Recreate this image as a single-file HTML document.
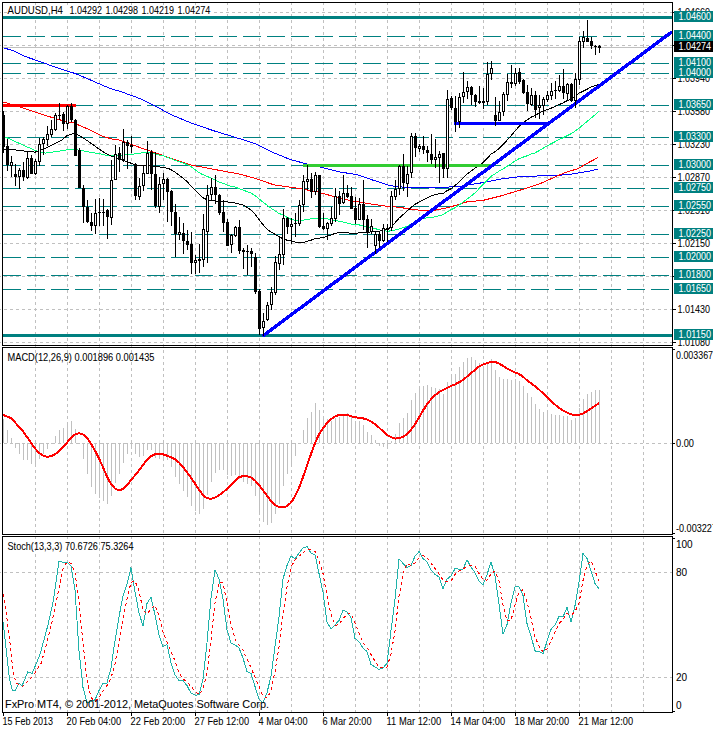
<!DOCTYPE html>
<html><head><meta charset="utf-8"><style>
html,body{margin:0;padding:0;background:#fff;}
body{width:713px;height:729px;position:relative;overflow:hidden;font-family:"Liberation Sans", sans-serif;}
</style></head><body>
<svg width="713" height="729" viewBox="0 0 713 729" style="position:absolute;left:0;top:0"><rect width="713" height="729" fill="#fff"/><path d="M35.5 2V712M67.5 2V712M99.5 2V712M131.5 2V712M163.5 2V712M195.5 2V712M227.5 2V712M259.5 2V712M291.5 2V712M323.5 2V712M355.5 2V712M387.5 2V712M419.5 2V712M451.5 2V712M483.5 2V712M515.5 2V712M547.5 2V712M579.5 2V712M611.5 2V712M643.5 2V712M-2 12.5H672M-2 45.5H672M-2 78.5H672M-2 111.5H672M-2 144.5H672M-2 177.5H672M-2 210.5H672M-2 243.5H672M-2 276.5H672M-2 309.5H672M-2 342.5H672M-2 443.5H672M-2 572.5H672M-2 677.5H672" stroke="#c0c0c0" stroke-width="1" fill="none" stroke-dasharray="3 3" shape-rendering="crispEdges"/><rect x="3" y="16" width="669" height="3" fill="#008080"/><rect x="3" y="334" width="669" height="3" fill="#008080"/><path d="M3 36.5H672M3 63.5H672M3 73.5H672M3 105.5H672M3 137.5H672M3 165.5H672M3 188.5H672M3 206.5H672M3 234.5H672M3 257.5H672M3 275.5H672M3 289.5H672" stroke="#008080" stroke-width="1" fill="none" stroke-dasharray="18 6" shape-rendering="crispEdges"/><polyline points="3.0,47.6 13.5,50.9 23.6,56.0 33.7,59.4 45.5,63.6 57.2,67.8 67.3,71.1 75.8,73.7 87.5,78.7 101.0,84.6 111.1,88.8 120.0,91.3 141.9,99.3 153.7,105.2 170.5,114.4 190.7,122.8 212.6,130.4 240.0,138.8 256.8,144.4 273.7,152.8 290.5,159.6 307.3,164.1 324.2,168.0 341.0,172.2 356.8,174.5 373.7,180.4 390.5,185.8 407.3,187.5 424.2,188.0 441.0,187.5 460.0,186.3 483.7,182.5 500.5,179.1 520.7,176.6 542.6,175.8 556.5,175.6 572.9,173.9 589.4,171.1 598.4,169.0" fill="none" stroke="#0000ff" stroke-width="1" shape-rendering="crispEdges"/><polyline points="3.4,102.1 16.8,105.9 26.9,109.3 42.0,114.4 55.6,118.6 67.3,121.9 74.0,122.3 79.0,125.3 89.2,129.5 102.7,136.2 111.0,138.8 120.0,140.2 136.8,146.4 153.7,152.3 170.5,158.2 190.7,164.9 212.6,169.1 240.0,174.2 256.8,178.9 273.7,184.8 297.2,188.2 315.8,191.5 334.3,196.6 351.1,200.8 365.3,203.1 382.1,205.7 398.9,207.3 415.8,209.9 432.6,210.7 449.4,207.3 466.8,201.9 483.7,200.2 500.5,196.0 524.1,188.9 540.9,183.3 557.7,175.8 564.7,172.8 577.9,168.6 589.4,162.1 598.4,157.4" fill="none" stroke="#ff0000" stroke-width="1" shape-rendering="crispEdges"/><polyline points="4.9,136.8 15.7,141.7 25.5,146.2 35.3,150.5 45.2,153.1 56.9,151.5 68.7,149.5 75.6,149.5 86.4,151.5 98.2,153.5 110.0,156.0 121.7,155.4 133.5,154.1 146.8,152.1 163.7,156.0 177.1,161.0 188.9,165.2 200.7,173.7 212.5,178.7 219.0,182.0 223.0,183.4 227.0,184.9 231.0,186.2 235.0,187.1 239.0,188.6 243.0,189.9 247.0,191.6 251.0,193.1 255.0,195.5 259.0,198.8 263.0,202.1 267.0,205.2 271.0,208.2 275.0,210.9 279.0,213.4 283.0,215.1 287.0,217.3 291.0,219.2 295.0,220.4 299.0,220.8 303.0,220.3 307.0,219.5 311.0,218.9 315.0,218.2 319.0,218.5 323.0,218.8 327.0,218.9 331.0,219.6 335.0,220.4 339.0,221.2 343.0,222.1 347.0,223.0 351.0,224.1 355.0,224.6 359.0,224.9 363.0,225.8 367.0,227.2 371.0,228.1 375.0,228.6 379.0,229.7 383.0,230.6 387.0,231.2 391.0,230.9 395.0,230.1 399.0,228.9 403.0,227.8 407.0,226.5 411.0,224.2 415.0,222.2 419.0,220.1 423.0,218.7 427.0,217.9 431.0,217.4 435.0,216.8 439.0,215.7 443.0,214.7 447.0,212.0 451.0,209.7 455.0,207.8 459.0,205.0 463.0,202.1 467.0,199.1 471.0,196.2 475.0,192.8 479.0,188.7 483.0,184.7 487.0,180.5 491.0,176.4 495.0,173.8 499.0,171.2 503.0,169.0 507.0,166.4 511.0,163.8 515.0,161.0 519.0,158.8 523.0,157.2 527.0,155.8 531.0,154.1 535.0,152.9 539.0,150.7 543.0,148.3 547.0,146.0 551.0,143.7 555.0,141.7 559.0,139.6 563.0,137.8 567.0,135.7 571.0,133.8 575.0,131.2 579.0,128.2 583.0,124.9 587.0,121.5 591.0,118.2 595.0,114.8 599.0,111.3" fill="none" stroke="#00ff7f" stroke-width="1" shape-rendering="crispEdges"/><polyline points="3.9,149.0 11.8,149.5 19.6,150.5 27.5,151.5 35.3,152.1 45.2,148.6 55.0,143.7 60.9,140.7 66.8,135.8 72.6,133.8 76.6,134.2 84.4,138.7 94.2,145.6 104.1,152.5 111.9,156.4 125.7,161.3 135.0,164.6 139.0,165.8 143.0,166.0 147.0,165.7 151.0,165.6 155.0,166.7 159.0,166.9 163.0,167.5 167.0,168.1 171.0,169.6 175.0,172.2 179.0,175.0 183.0,178.1 187.0,181.5 191.0,185.9 195.0,190.1 199.0,194.1 203.0,197.7 207.0,199.9 211.0,200.8 215.0,201.0 219.0,201.2 223.0,201.2 227.0,201.8 231.0,202.5 235.0,202.9 239.0,204.0 243.0,205.1 247.0,207.2 251.0,210.1 255.0,214.0 259.0,219.5 263.0,224.6 267.0,229.3 271.0,232.1 275.0,234.3 279.0,236.7 283.0,238.7 287.0,240.2 291.0,240.8 295.0,242.0 299.0,242.7 303.0,242.4 307.0,241.4 311.0,240.2 315.0,238.5 319.0,238.1 323.0,237.6 327.0,236.4 331.0,235.2 335.0,233.3 339.0,232.6 343.0,232.5 347.0,232.8 351.0,233.3 355.0,233.5 359.0,232.9 363.0,232.1 367.0,232.1 371.0,232.0 375.0,231.5 379.0,231.2 383.0,230.5 387.0,229.7 391.0,226.9 395.0,222.8 399.0,218.2 403.0,214.7 407.0,211.2 411.0,207.5 415.0,204.3 419.0,202.2 423.0,200.0 427.0,197.9 431.0,196.0 435.0,194.5 439.0,193.8 443.0,193.5 447.0,190.7 451.0,188.8 455.0,185.7 459.0,181.8 463.0,177.9 467.0,174.0 471.0,171.1 475.0,168.1 479.0,165.4 483.0,162.6 487.0,158.7 491.0,154.2 495.0,151.7 499.0,148.6 503.0,144.5 507.0,140.3 511.0,135.9 515.0,130.9 519.0,126.6 523.0,122.7 527.0,120.0 531.0,117.2 535.0,115.5 539.0,113.2 543.0,111.0 547.0,109.8 551.0,108.2 555.0,106.5 559.0,104.7 563.0,102.9 567.0,100.7 571.0,99.0 575.0,96.8 579.0,93.1 583.0,91.3 587.0,89.3 591.0,87.1 595.0,85.6 599.0,84.3" fill="none" stroke="#000000" stroke-width="1" shape-rendering="crispEdges"/><rect x="3" y="47" width="669" height="1" fill="#c0c0c0"/><rect x="3" y="104" width="73" height="3" fill="#ff0000"/><rect x="303" y="164" width="190" height="3" fill="#32cd32"/><rect x="454" y="122" width="95" height="3" fill="#0000ff"/><line x1="262.7" y1="336" x2="672" y2="31.8" stroke="#0000ff" stroke-width="3.4" shape-rendering="crispEdges"/><path d="M3 111h1V153h-1ZM2 115h3V147h-3ZM7 139h1V171h-1ZM6 146h3V165h-3ZM11 156h1V177h-1ZM10 162h3V166h-3ZM15 164h1V186h-1ZM14 174h3V177h-3ZM19 168h1V189h-1ZM18 170h3V177h-3ZM23 162h1V181h-1ZM22 170h3V177h-3ZM27 151h1V179h-1ZM26 158h3V178h-3ZM31 155h1V174h-1ZM30 158h3V174h-3ZM35 159h1V175h-1ZM34 161h3V174h-3ZM39 138h1V166h-1ZM38 144h3V162h-3ZM43 137h1V155h-1ZM42 139h3V144h-3ZM47 126h1V146h-1ZM46 134h3V140h-3ZM51 120h1V137h-1ZM50 129h3V135h-3ZM55 113h1V131h-1ZM54 115h3V130h-3ZM59 103h1V120h-1ZM58 115h3V116h-3ZM63 112h1V131h-1ZM62 114h3V124h-3ZM67 105h1V129h-1ZM66 106h3V124h-3ZM71 103h1V122h-1ZM70 106h3V120h-3ZM75 119h1V156h-1ZM74 120h3V156h-3ZM79 148h1V188h-1ZM78 150h3V188h-3ZM83 185h1V223h-1ZM82 188h3V207h-3ZM87 200h1V223h-1ZM86 207h3V222h-3ZM91 213h1V231h-1ZM90 222h3V226h-3ZM95 199h1V234h-1ZM94 213h3V226h-3ZM99 198h1V226h-1ZM98 212h3V213h-3ZM103 199h1V226h-1ZM102 212h3V213h-3ZM107 209h1V239h-1ZM106 210h3V217h-3ZM111 160h1V225h-1ZM110 180h3V218h-3ZM115 145h1V180h-1ZM114 154h3V180h-3ZM119 147h1V172h-1ZM118 153h3V160h-3ZM123 129h1V162h-1ZM122 142h3V160h-3ZM127 140h1V169h-1ZM126 142h3V146h-3ZM131 136h1V153h-1ZM130 145h3V147h-3ZM135 163h1V200h-1ZM134 164h3V196h-3ZM139 178h1V200h-1ZM138 186h3V197h-3ZM143 166h1V191h-1ZM142 173h3V186h-3ZM147 141h1V174h-1ZM146 153h3V174h-3ZM151 150h1V190h-1ZM150 152h3V174h-3ZM155 152h1V208h-1ZM154 174h3V206h-3ZM159 177h1V213h-1ZM158 184h3V207h-3ZM163 173h1V200h-1ZM162 179h3V184h-3ZM167 178h1V222h-1ZM166 179h3V192h-3ZM171 190h1V226h-1ZM170 191h3V212h-3ZM175 204h1V257h-1ZM174 212h3V234h-3ZM179 217h1V240h-1ZM178 232h3V235h-3ZM183 223h1V254h-1ZM182 233h3V241h-3ZM187 230h1V250h-1ZM186 241h3V245h-3ZM191 232h1V274h-1ZM190 244h3V263h-3ZM195 255h1V274h-1ZM194 260h3V263h-3ZM199 244h1V273h-1ZM198 259h3V261h-3ZM203 214h1V267h-1ZM202 229h3V260h-3ZM207 185h1V263h-1ZM206 195h3V232h-3ZM211 178h1V200h-1ZM210 187h3V195h-3ZM215 175h1V204h-1ZM214 187h3V195h-3ZM219 194h1V215h-1ZM218 195h3V213h-3ZM223 200h1V232h-1ZM222 212h3V223h-3ZM227 219h1V246h-1ZM226 222h3V246h-3ZM231 234h1V253h-1ZM230 235h3V245h-3ZM235 226h1V237h-1ZM234 227h3V236h-3ZM239 220h1V254h-1ZM238 227h3V251h-3ZM243 248h1V269h-1ZM242 250h3V252h-3ZM247 245h1V275h-1ZM246 251h3V252h-3ZM251 248h1V267h-1ZM250 251h3V254h-3ZM255 253h1V294h-1ZM254 257h3V292h-3ZM259 289h1V335h-1ZM258 291h3V329h-3ZM263 313h1V336h-1ZM262 321h3V328h-3ZM267 302h1V321h-1ZM266 305h3V320h-3ZM271 287h1V310h-1ZM270 292h3V305h-3ZM275 256h1V295h-1ZM274 262h3V293h-3ZM279 236h1V270h-1ZM278 254h3V264h-3ZM283 209h1V265h-1ZM282 218h3V255h-3ZM287 217h1V234h-1ZM286 218h3V227h-3ZM291 218h1V244h-1ZM290 224h3V227h-3ZM295 213h1V237h-1ZM294 223h3V224h-3ZM299 200h1V226h-1ZM298 205h3V224h-3ZM303 175h1V212h-1ZM302 181h3V205h-3ZM307 165h1V190h-1ZM306 179h3V182h-3ZM311 173h1V198h-1ZM310 179h3V192h-3ZM315 172h1V195h-1ZM314 175h3V192h-3ZM319 175h1V228h-1ZM318 175h3V227h-3ZM323 213h1V230h-1ZM322 226h3V229h-3ZM327 222h1V240h-1ZM326 223h3V229h-3ZM331 207h1V226h-1ZM330 218h3V224h-3ZM335 188h1V222h-1ZM334 196h3V219h-3ZM339 191h1V215h-1ZM338 196h3V204h-3ZM343 175h1V204h-1ZM342 193h3V203h-3ZM347 185h1V198h-1ZM346 193h3V197h-3ZM351 187h1V209h-1ZM350 196h3V209h-3ZM355 197h1V224h-1ZM354 208h3V220h-3ZM359 198h1V220h-1ZM358 204h3V220h-3ZM363 180h1V230h-1ZM362 204h3V220h-3ZM367 215h1V248h-1ZM366 219h3V232h-3ZM371 219h1V234h-1ZM370 226h3V232h-3ZM375 232h1V254h-1ZM374 234h3V246h-3ZM379 231h1V248h-1ZM378 234h3V241h-3ZM383 224h1V242h-1ZM382 228h3V241h-3ZM387 224h1V242h-1ZM386 228h3V230h-3ZM391 191h1V231h-1ZM390 196h3V228h-3ZM395 180h1V200h-1ZM394 189h3V197h-3ZM399 165h1V195h-1ZM398 166h3V189h-3ZM403 154h1V191h-1ZM402 166h3V183h-3ZM407 166h1V197h-1ZM406 174h3V184h-3ZM411 133h1V178h-1ZM410 136h3V173h-3ZM415 133h1V157h-1ZM414 136h3V148h-3ZM419 144h1V152h-1ZM418 146h3V149h-3ZM423 136h1V154h-1ZM422 146h3V150h-3ZM427 146h1V162h-1ZM426 150h3V153h-3ZM431 134h1V164h-1ZM430 154h3V160h-3ZM435 139h1V168h-1ZM434 157h3V160h-3ZM439 151h1V183h-1ZM438 154h3V158h-3ZM443 153h1V178h-1ZM442 153h3V169h-3ZM447 90h1V178h-1ZM446 99h3V169h-3ZM451 96h1V110h-1ZM450 98h3V108h-3ZM455 96h1V132h-1ZM454 108h3V122h-3ZM459 93h1V128h-1ZM458 97h3V122h-3ZM463 72h1V103h-1ZM462 92h3V97h-3ZM467 81h1V99h-1ZM466 87h3V92h-3ZM471 86h1V105h-1ZM470 87h3V95h-3ZM475 94h1V107h-1ZM474 95h3V102h-3ZM479 86h1V104h-1ZM478 101h3V103h-3ZM483 88h1V109h-1ZM482 101h3V103h-3ZM487 62h1V105h-1ZM486 74h3V102h-3ZM491 61h1V80h-1ZM490 68h3V74h-3ZM495 97h1V126h-1ZM494 115h3V121h-3ZM499 101h1V121h-1ZM498 112h3V121h-3ZM503 92h1V116h-1ZM502 94h3V112h-3ZM507 74h1V101h-1ZM506 82h3V95h-3ZM511 65h1V88h-1ZM510 82h3V84h-3ZM515 68h1V86h-1ZM514 73h3V84h-3ZM519 68h1V84h-1ZM518 72h3V82h-3ZM523 79h1V94h-1ZM522 80h3V93h-3ZM527 85h1V111h-1ZM526 92h3V104h-3ZM531 88h1V106h-1ZM530 95h3V105h-3ZM535 91h1V118h-1ZM534 95h3V110h-3ZM539 95h1V119h-1ZM538 105h3V108h-3ZM543 97h1V115h-1ZM542 99h3V106h-3ZM547 91h1V102h-1ZM546 95h3V100h-3ZM551 83h1V100h-1ZM550 91h3V96h-3ZM555 81h1V99h-1ZM554 90h3V91h-3ZM559 75h1V92h-1ZM558 86h3V91h-3ZM563 69h1V99h-1ZM562 86h3V93h-3ZM567 83h1V101h-1ZM566 84h3V94h-3ZM571 83h1V102h-1ZM570 84h3V101h-3ZM575 73h1V108h-1ZM574 79h3V101h-3ZM579 37h1V85h-1ZM578 41h3V80h-3ZM583 31h1V48h-1ZM582 37h3V42h-3ZM587 20h1V42h-1ZM586 38h3V42h-3ZM591 37h1V49h-1ZM590 41h3V46h-3ZM595 45h1V55h-1ZM594 46h3V47h-3ZM599 45h1V53h-1ZM598 46h3V48h-3Z" fill="#000" shape-rendering="crispEdges"/><path d="M11 163h1V165h-1ZM19 171h1V176h-1ZM27 159h1V177h-1ZM35 162h1V173h-1ZM39 145h1V161h-1ZM43 140h1V143h-1ZM47 135h1V139h-1ZM51 130h1V134h-1ZM55 116h1V129h-1ZM67 107h1V123h-1ZM95 214h1V225h-1ZM111 181h1V217h-1ZM115 155h1V179h-1ZM123 143h1V159h-1ZM139 187h1V196h-1ZM143 174h1V185h-1ZM147 154h1V173h-1ZM159 185h1V206h-1ZM163 180h1V183h-1ZM179 233h1V234h-1ZM195 261h1V262h-1ZM203 230h1V259h-1ZM207 196h1V231h-1ZM211 188h1V194h-1ZM231 236h1V244h-1ZM235 228h1V235h-1ZM263 322h1V327h-1ZM267 306h1V319h-1ZM271 293h1V304h-1ZM275 263h1V292h-1ZM279 255h1V263h-1ZM283 219h1V254h-1ZM291 225h1V226h-1ZM299 206h1V223h-1ZM303 182h1V204h-1ZM307 180h1V181h-1ZM315 176h1V191h-1ZM327 224h1V228h-1ZM331 219h1V223h-1ZM335 197h1V218h-1ZM343 194h1V202h-1ZM359 205h1V219h-1ZM371 227h1V231h-1ZM375 235h1V245h-1ZM383 229h1V240h-1ZM391 197h1V227h-1ZM395 190h1V196h-1ZM399 167h1V188h-1ZM407 175h1V183h-1ZM411 137h1V172h-1ZM419 147h1V148h-1ZM435 158h1V159h-1ZM439 155h1V157h-1ZM447 100h1V168h-1ZM459 98h1V121h-1ZM463 93h1V96h-1ZM467 88h1V91h-1ZM487 75h1V101h-1ZM491 69h1V73h-1ZM499 113h1V120h-1ZM503 95h1V111h-1ZM507 83h1V94h-1ZM515 74h1V83h-1ZM531 96h1V104h-1ZM539 106h1V107h-1ZM543 100h1V105h-1ZM547 96h1V99h-1ZM551 92h1V95h-1ZM559 87h1V90h-1ZM567 85h1V93h-1ZM575 80h1V100h-1ZM579 42h1V79h-1ZM583 38h1V41h-1Z" fill="#fff" shape-rendering="crispEdges"/><path d="M3.5 419V443M7.5 430V443M11.5 438V443M15.5 443V448M19.5 443V454M23.5 443V460M27.5 443V460M31.5 443V464M35.5 443V464M39.5 443V459M43.5 443V454M47.5 443V449M51.5 443V444M55.5 436V443M59.5 430V443M63.5 428V443M67.5 422V443M71.5 421V443M75.5 429V443M79.5 443V444M83.5 443V459M87.5 443V474M91.5 443V487M95.5 443V494M99.5 443V498M103.5 443V501M107.5 443V504M111.5 443V496M115.5 443V483M119.5 443V474M123.5 443V463M127.5 443V454M131.5 443V448M135.5 443V454M139.5 443V457M143.5 443V456M147.5 443V450M151.5 443V450M155.5 443V458M159.5 443V459M163.5 443V458M167.5 443V460M171.5 443V467M175.5 443V477M179.5 443V484M183.5 443V491M187.5 443V497M191.5 443V506M195.5 443V511M199.5 443V514M203.5 443V509M207.5 443V495M211.5 443V482M215.5 443V473M219.5 443V470M223.5 443V470M227.5 443V475M231.5 443V476M235.5 443V475M239.5 443V479M243.5 443V482M247.5 443V484M251.5 443V486M255.5 443V496M259.5 443V512M263.5 443V522M267.5 443V525M271.5 443V523M275.5 443V514M279.5 443V504M283.5 443V486M287.5 443V474M291.5 443V464M295.5 443V456M299.5 443V444M303.5 430V443M307.5 418V443M311.5 412V443M315.5 403V443M319.5 410V443M323.5 416V443M327.5 419V443M331.5 421V443M335.5 418V443M339.5 417V443M343.5 414V443M347.5 413V443M351.5 416V443M355.5 421V443M359.5 421V443M363.5 425V443M367.5 432V443M371.5 435V443M375.5 440V443M379.5 443V446M383.5 443V447M387.5 443V448M391.5 441V443M395.5 434V443M399.5 423V443M403.5 418V443M407.5 413V443M411.5 400V443M415.5 393V443M419.5 388V443M423.5 386V443M427.5 385V443M431.5 387V443M435.5 388V443M439.5 389V443M443.5 394V443M447.5 382V443M451.5 375V443M455.5 374V443M459.5 367V443M463.5 362V443M467.5 358V443M471.5 357V443M475.5 360V443M479.5 363V443M483.5 366V443M487.5 362V443M491.5 359V443M495.5 370V443M499.5 377V443M503.5 379V443M507.5 379V443M511.5 380V443M515.5 379V443M519.5 381V443M523.5 386V443M527.5 393V443M531.5 397V443M535.5 404V443M539.5 409V443M543.5 412V443M547.5 413V443M551.5 414V443M555.5 415V443M559.5 415V443M563.5 416V443M567.5 416V443M571.5 420V443M575.5 418V443M579.5 408V443M583.5 399V443M587.5 394V443M591.5 392V443M595.5 390V443M599.5 390V443" stroke="#c0c0c0" stroke-width="1" fill="none" shape-rendering="crispEdges"/><polyline points="2.7,414.8 11.2,418.2 22.4,430.5 35.0,448.4 39.0,452.9 43.0,455.6 47.0,456.8 51.0,456.3 55.0,454.3 59.0,451.0 63.0,447.3 67.0,442.6 71.0,437.9 75.0,434.5 79.0,433.3 83.0,434.4 87.0,437.8 91.0,443.6 95.0,450.7 99.0,458.5 103.0,467.3 107.0,476.6 111.0,484.1 115.0,488.5 119.0,490.3 123.0,489.0 127.0,485.3 131.0,480.2 135.0,475.3 139.0,470.4 143.0,465.0 147.0,459.9 151.0,456.2 155.0,454.3 159.0,453.9 163.0,454.3 167.0,455.7 171.0,457.1 175.0,459.3 179.0,462.5 183.0,467.1 187.0,472.3 191.0,477.7 195.0,483.5 199.0,489.8 203.0,495.1 207.0,498.3 211.0,498.8 215.0,497.6 219.0,495.3 223.0,492.3 227.0,488.9 231.0,485.1 235.0,480.7 239.0,477.4 243.0,476.0 247.0,476.2 251.0,477.6 255.0,480.4 259.0,485.1 263.0,490.2 267.0,495.6 271.0,501.0 275.0,504.8 279.0,507.2 283.0,507.4 287.0,506.2 291.0,502.6 295.0,496.4 299.0,487.7 303.0,477.2 307.0,465.4 311.0,454.1 315.0,443.0 319.0,434.5 323.0,428.1 327.0,423.1 331.0,419.3 335.0,416.4 339.0,415.0 343.0,414.6 347.0,414.7 351.0,416.1 355.0,417.3 359.0,417.8 363.0,418.4 367.0,419.5 371.0,421.5 375.0,424.0 379.0,427.6 383.0,431.3 387.0,434.9 391.0,437.2 395.0,438.6 399.0,438.3 403.0,436.9 407.0,434.4 411.0,429.9 415.0,424.1 419.0,417.5 423.0,410.6 427.0,404.4 431.0,399.2 435.0,395.3 439.0,392.1 443.0,390.0 447.0,388.0 451.0,385.9 455.0,384.4 459.0,382.3 463.0,379.8 467.0,376.6 471.0,373.2 475.0,369.9 479.0,366.4 483.0,364.6 487.0,363.2 491.0,361.6 495.0,361.9 499.0,363.5 503.0,365.9 507.0,368.4 511.0,370.6 515.0,372.4 519.0,374.0 523.0,376.6 527.0,380.4 531.0,383.3 535.0,386.3 539.0,389.6 543.0,393.2 547.0,396.9 551.0,400.8 555.0,404.6 559.0,407.8 563.0,410.4 567.0,412.5 571.0,414.3 575.0,415.4 579.0,414.9 583.0,413.4 587.0,411.2 591.0,408.6 595.0,405.9 599.0,403.1" fill="none" stroke="#ff0000" stroke-width="2" shape-rendering="crispEdges"/><polyline points="3.1,622.2 9.3,677.8 12.2,690.0 15.1,691.1 18.9,683.3 22.2,685.6 27.8,671.8 32.2,673.3 40.0,654.4 47.8,625.6 53.3,601.1 59.0,561.1 63.0,562.4 67.0,562.1 71.0,565.7 75.0,590.2 79.0,650.5 83.0,687.5 87.0,702.7 91.0,701.6 95.0,699.8 99.0,690.5 103.0,683.3 107.0,683.2 111.0,667.8 115.0,640.9 119.0,616.8 123.0,595.9 127.0,584.0 131.0,567.6 135.0,591.8 139.0,612.8 143.0,626.2 147.0,603.5 151.0,597.2 155.0,614.8 159.0,635.0 163.0,646.5 167.0,644.6 171.0,662.7 175.0,674.9 179.0,680.5 183.0,680.6 187.0,685.6 191.0,693.1 195.0,695.1 199.0,694.9 203.0,678.7 207.0,642.7 211.0,598.1 215.0,569.6 219.0,578.9 223.0,599.3 227.0,629.7 231.0,642.8 235.0,645.0 239.0,647.9 243.0,658.0 247.0,671.7 251.0,673.3 255.0,686.5 259.0,698.9 263.0,703.0 267.0,692.7 271.0,676.3 275.0,646.2 279.0,617.2 283.0,578.8 287.0,565.6 291.0,555.9 295.0,558.9 299.0,553.0 303.0,548.1 307.0,546.5 311.0,553.2 315.0,554.6 319.0,573.5 323.0,592.3 327.0,622.0 331.0,628.8 335.0,624.9 339.0,620.5 343.0,610.2 347.0,612.0 351.0,617.6 355.0,638.4 359.0,641.7 363.0,647.9 367.0,651.6 371.0,664.4 375.0,666.9 379.0,669.5 383.0,667.9 387.0,663.5 391.0,630.6 395.0,599.2 399.0,559.2 403.0,563.3 407.0,567.6 411.0,565.6 415.0,556.3 419.0,551.6 423.0,558.6 427.0,561.7 431.0,569.7 435.0,574.4 439.0,576.9 443.0,588.9 447.0,579.1 451.0,575.9 455.0,568.6 459.0,569.2 463.0,569.4 467.0,559.7 471.0,567.1 475.0,572.6 479.0,581.1 483.0,585.0 487.0,574.7 491.0,562.0 495.0,575.9 499.0,604.3 503.0,634.0 507.0,624.6 511.0,603.0 515.0,586.6 519.0,586.8 523.0,595.5 527.0,623.5 531.0,636.0 535.0,650.9 539.0,651.7 543.0,653.6 547.0,641.4 551.0,629.4 555.0,625.0 559.0,616.4 563.0,616.8 567.0,607.4 571.0,622.0 575.0,605.6 579.0,582.4 583.0,553.5 587.0,558.4 591.0,570.6 595.0,583.6 599.0,588.8" fill="none" stroke="#20b2aa" stroke-width="1" shape-rendering="crispEdges"/><polyline points="3.1,594.4 6.7,616.7 10.0,643.3 13.3,674.4 16.7,683.3 22.2,686.7 27.8,681.1 33.3,675.6 41.1,663.3 46.7,643.3 52.2,621.1 57.8,594.4 63.3,567.8 67.0,561.9 71.0,563.4 75.0,572.7 79.0,602.1 83.0,642.7 87.0,680.2 91.0,697.3 95.0,701.4 99.0,697.3 103.0,691.2 107.0,685.6 111.0,678.1 115.0,664.0 119.0,641.8 123.0,617.9 127.0,598.9 131.0,582.5 135.0,581.1 139.0,590.7 143.0,610.3 147.0,614.2 151.0,609.0 155.0,605.2 159.0,615.7 163.0,632.1 167.0,642.0 171.0,651.3 175.0,660.8 179.0,672.7 183.0,678.7 187.0,682.2 191.0,686.4 195.0,691.3 199.0,694.4 203.0,689.6 207.0,672.1 211.0,639.8 215.0,603.5 219.0,582.2 223.0,582.6 227.0,602.7 231.0,623.9 235.0,639.2 239.0,645.2 243.0,650.3 247.0,659.2 251.0,667.7 255.0,677.2 259.0,686.2 263.0,696.1 267.0,698.2 271.0,690.7 275.0,671.7 279.0,646.6 283.0,614.0 287.0,587.2 291.0,566.8 295.0,560.1 299.0,555.9 303.0,553.3 307.0,549.2 311.0,549.3 315.0,551.5 319.0,560.4 323.0,573.5 327.0,595.9 331.0,614.4 335.0,625.2 339.0,624.7 343.0,618.5 347.0,614.2 351.0,613.3 355.0,622.7 359.0,632.6 363.0,642.7 367.0,647.1 371.0,654.6 375.0,661.0 379.0,666.9 383.0,668.1 387.0,667.0 391.0,654.0 395.0,631.1 399.0,596.3 403.0,573.9 407.0,563.4 411.0,565.5 415.0,563.2 419.0,557.8 423.0,555.5 427.0,557.3 431.0,563.3 435.0,568.6 439.0,573.7 443.0,580.1 447.0,581.6 451.0,581.3 455.0,574.5 459.0,571.2 463.0,569.0 467.0,566.1 471.0,565.4 475.0,566.5 479.0,573.6 483.0,579.6 487.0,580.2 491.0,573.9 495.0,570.8 499.0,580.7 503.0,604.7 507.0,621.0 511.0,620.5 515.0,604.8 519.0,592.2 523.0,589.6 527.0,602.0 531.0,618.3 535.0,636.8 539.0,646.2 543.0,652.1 547.0,648.9 551.0,641.5 555.0,632.0 559.0,623.6 563.0,619.4 567.0,613.5 571.0,615.4 575.0,611.7 579.0,603.3 583.0,580.5 587.0,564.8 591.0,560.8 595.0,570.9 599.0,581.0" fill="none" stroke="#ff0000" stroke-width="1" stroke-dasharray="3 3" shape-rendering="crispEdges"/><path d="M2.5 2.5H672.5V345.5H2.5ZM2.5 347.5H672.5V534.5H2.5ZM2.5 536.5H672.5V712.5H2.5Z" stroke="#000" fill="none" stroke-width="1" shape-rendering="crispEdges"/><rect x="7" y="5" width="205" height="11" fill="#fff"/><path d="M3.5 713V716M67.5 713V716M131.5 713V716M195.5 713V716M259.5 713V716M323.5 713V716M387.5 713V716M451.5 713V716M515.5 713V716M579.5 713V716" stroke="#000" stroke-width="1" shape-rendering="crispEdges"/><path d="M673 12.5h3M673 45.5h3M673 78.5h3M673 111.5h3M673 144.5h3M673 177.5h3M673 210.5h3M673 243.5h3M673 276.5h3M673 309.5h3M673 342.5h3" stroke="#000" stroke-width="1" shape-rendering="crispEdges"/><g font-family="Liberation Sans, sans-serif"><text x="677.5" y="16" font-size="10.5" fill="#000" stroke="#000" stroke-width="0.05" textLength="32.5" lengthAdjust="spacingAndGlyphs" text-anchor="start" >1.04660</text><text x="677.5" y="49" font-size="10.5" fill="#000" stroke="#000" stroke-width="0.05" textLength="32.5" lengthAdjust="spacingAndGlyphs" text-anchor="start" >1.04300</text><text x="677.5" y="82" font-size="10.5" fill="#000" stroke="#000" stroke-width="0.05" textLength="32.5" lengthAdjust="spacingAndGlyphs" text-anchor="start" >1.03940</text><text x="677.5" y="115" font-size="10.5" fill="#000" stroke="#000" stroke-width="0.05" textLength="32.5" lengthAdjust="spacingAndGlyphs" text-anchor="start" >1.03580</text><text x="677.5" y="148" font-size="10.5" fill="#000" stroke="#000" stroke-width="0.05" textLength="32.5" lengthAdjust="spacingAndGlyphs" text-anchor="start" >1.03230</text><text x="677.5" y="181" font-size="10.5" fill="#000" stroke="#000" stroke-width="0.05" textLength="32.5" lengthAdjust="spacingAndGlyphs" text-anchor="start" >1.02870</text><text x="677.5" y="214" font-size="10.5" fill="#000" stroke="#000" stroke-width="0.05" textLength="32.5" lengthAdjust="spacingAndGlyphs" text-anchor="start" >1.02510</text><text x="677.5" y="247" font-size="10.5" fill="#000" stroke="#000" stroke-width="0.05" textLength="32.5" lengthAdjust="spacingAndGlyphs" text-anchor="start" >1.02150</text><text x="677.5" y="280" font-size="10.5" fill="#000" stroke="#000" stroke-width="0.05" textLength="32.5" lengthAdjust="spacingAndGlyphs" text-anchor="start" >1.01800</text><text x="677.5" y="313" font-size="10.5" fill="#000" stroke="#000" stroke-width="0.05" textLength="32.5" lengthAdjust="spacingAndGlyphs" text-anchor="start" >1.01430</text><text x="677.5" y="346" font-size="10.5" fill="#000" stroke="#000" stroke-width="0.05" textLength="32.5" lengthAdjust="spacingAndGlyphs" text-anchor="start" >1.01080</text></g><rect x="674" y="11" width="39" height="11" fill="#008080"/><rect x="674" y="30" width="39" height="11" fill="#008080"/><rect x="674" y="57" width="39" height="11" fill="#008080"/><rect x="674" y="67" width="39" height="11" fill="#008080"/><rect x="674" y="99" width="39" height="11" fill="#008080"/><rect x="674" y="131" width="39" height="11" fill="#008080"/><rect x="674" y="159" width="39" height="11" fill="#008080"/><rect x="674" y="182" width="39" height="11" fill="#008080"/><rect x="674" y="200" width="39" height="11" fill="#008080"/><rect x="674" y="228" width="39" height="11" fill="#008080"/><rect x="674" y="251" width="39" height="11" fill="#008080"/><rect x="674" y="269" width="39" height="11" fill="#008080"/><rect x="674" y="283" width="39" height="11" fill="#008080"/><rect x="674" y="329" width="39" height="11" fill="#008080"/><rect x="674" y="41" width="39" height="11" fill="#000"/><g font-family="Liberation Sans, sans-serif"><text x="678.5" y="20" font-size="10.5" fill="#fff" stroke="#fff" stroke-width="0.05" textLength="32.5" lengthAdjust="spacingAndGlyphs" text-anchor="start" >1.04600</text><text x="678.5" y="39" font-size="10.5" fill="#fff" stroke="#fff" stroke-width="0.05" textLength="32.5" lengthAdjust="spacingAndGlyphs" text-anchor="start" >1.04400</text><text x="678.5" y="66" font-size="10.5" fill="#fff" stroke="#fff" stroke-width="0.05" textLength="32.5" lengthAdjust="spacingAndGlyphs" text-anchor="start" >1.04100</text><text x="678.5" y="76" font-size="10.5" fill="#fff" stroke="#fff" stroke-width="0.05" textLength="32.5" lengthAdjust="spacingAndGlyphs" text-anchor="start" >1.04000</text><text x="678.5" y="108" font-size="10.5" fill="#fff" stroke="#fff" stroke-width="0.05" textLength="32.5" lengthAdjust="spacingAndGlyphs" text-anchor="start" >1.03650</text><text x="678.5" y="140" font-size="10.5" fill="#fff" stroke="#fff" stroke-width="0.05" textLength="32.5" lengthAdjust="spacingAndGlyphs" text-anchor="start" >1.03300</text><text x="678.5" y="168" font-size="10.5" fill="#fff" stroke="#fff" stroke-width="0.05" textLength="32.5" lengthAdjust="spacingAndGlyphs" text-anchor="start" >1.03000</text><text x="678.5" y="191" font-size="10.5" fill="#fff" stroke="#fff" stroke-width="0.05" textLength="32.5" lengthAdjust="spacingAndGlyphs" text-anchor="start" >1.02750</text><text x="678.5" y="209" font-size="10.5" fill="#fff" stroke="#fff" stroke-width="0.05" textLength="32.5" lengthAdjust="spacingAndGlyphs" text-anchor="start" >1.02550</text><text x="678.5" y="237" font-size="10.5" fill="#fff" stroke="#fff" stroke-width="0.05" textLength="32.5" lengthAdjust="spacingAndGlyphs" text-anchor="start" >1.02250</text><text x="678.5" y="260" font-size="10.5" fill="#fff" stroke="#fff" stroke-width="0.05" textLength="32.5" lengthAdjust="spacingAndGlyphs" text-anchor="start" >1.02000</text><text x="678.5" y="278" font-size="10.5" fill="#fff" stroke="#fff" stroke-width="0.05" textLength="32.5" lengthAdjust="spacingAndGlyphs" text-anchor="start" >1.01800</text><text x="678.5" y="292" font-size="10.5" fill="#fff" stroke="#fff" stroke-width="0.05" textLength="32.5" lengthAdjust="spacingAndGlyphs" text-anchor="start" >1.01650</text><text x="678.5" y="338" font-size="10.5" fill="#fff" stroke="#fff" stroke-width="0.05" textLength="32.5" lengthAdjust="spacingAndGlyphs" text-anchor="start" >1.01150</text><text x="678.5" y="50" font-size="10.5" fill="#fff" stroke="#fff" stroke-width="0.05" textLength="32.5" lengthAdjust="spacingAndGlyphs" text-anchor="start" >1.04274</text></g><path d="M673 349.5h2M673 443.5h2M673 533.5h2M673 538.5h2M673 711.5h2" stroke="#000" stroke-width="1" shape-rendering="crispEdges"/><g font-family="Liberation Sans, sans-serif"><text x="7.6" y="14" font-size="10.5" fill="#000" stroke="#000" stroke-width="0.05" textLength="55.3" lengthAdjust="spacingAndGlyphs" text-anchor="start" >AUDUSD,H4</text><text x="69.5" y="14" font-size="10.5" fill="#000" stroke="#000" stroke-width="0.05" textLength="32.5" lengthAdjust="spacingAndGlyphs" text-anchor="start" >1.04292</text><text x="105.5" y="14" font-size="10.5" fill="#000" stroke="#000" stroke-width="0.05" textLength="32.5" lengthAdjust="spacingAndGlyphs" text-anchor="start" >1.04298</text><text x="141.5" y="14" font-size="10.5" fill="#000" stroke="#000" stroke-width="0.05" textLength="32.5" lengthAdjust="spacingAndGlyphs" text-anchor="start" >1.04219</text><text x="177.5" y="14" font-size="10.5" fill="#000" stroke="#000" stroke-width="0.05" textLength="32.8" lengthAdjust="spacingAndGlyphs" text-anchor="start" >1.04274</text><text x="7.5" y="361" font-size="10.5" fill="#000" stroke="#000" stroke-width="0.05" textLength="147" lengthAdjust="spacingAndGlyphs" text-anchor="start" >MACD(12,26,9) 0.001896 0.001435</text><text x="7.5" y="550" font-size="10.5" fill="#000" stroke="#000" stroke-width="0.05" textLength="126" lengthAdjust="spacingAndGlyphs" text-anchor="start" >Stoch(13,3,3) 70.6726 75.3264</text><text x="5" y="708" font-size="10.5" fill="#000" stroke="#000" stroke-width="0.05" textLength="264" lengthAdjust="spacingAndGlyphs" text-anchor="start" >FxPro MT4, © 2001-2012, MetaQuotes Software Corp.</text><text x="2.6" y="725" font-size="10.5" fill="#000" stroke="#000" stroke-width="0.05" textLength="50.5" lengthAdjust="spacingAndGlyphs" text-anchor="start" >15 Feb 2013</text><text x="66.6" y="725" font-size="10.5" fill="#000" stroke="#000" stroke-width="0.05" textLength="54.5" lengthAdjust="spacingAndGlyphs" text-anchor="start" >20 Feb 04:00</text><text x="130.6" y="725" font-size="10.5" fill="#000" stroke="#000" stroke-width="0.05" textLength="54.5" lengthAdjust="spacingAndGlyphs" text-anchor="start" >22 Feb 20:00</text><text x="194.6" y="725" font-size="10.5" fill="#000" stroke="#000" stroke-width="0.05" textLength="54.5" lengthAdjust="spacingAndGlyphs" text-anchor="start" >27 Feb 12:00</text><text x="258.6" y="725" font-size="10.5" fill="#000" stroke="#000" stroke-width="0.05" textLength="49" lengthAdjust="spacingAndGlyphs" text-anchor="start" >4 Mar 04:00</text><text x="322.6" y="725" font-size="10.5" fill="#000" stroke="#000" stroke-width="0.05" textLength="49" lengthAdjust="spacingAndGlyphs" text-anchor="start" >6 Mar 20:00</text><text x="386.6" y="725" font-size="10.5" fill="#000" stroke="#000" stroke-width="0.05" textLength="54.5" lengthAdjust="spacingAndGlyphs" text-anchor="start" >11 Mar 12:00</text><text x="450.6" y="725" font-size="10.5" fill="#000" stroke="#000" stroke-width="0.05" textLength="54.5" lengthAdjust="spacingAndGlyphs" text-anchor="start" >14 Mar 04:00</text><text x="514.6" y="725" font-size="10.5" fill="#000" stroke="#000" stroke-width="0.05" textLength="54.5" lengthAdjust="spacingAndGlyphs" text-anchor="start" >18 Mar 20:00</text><text x="578.6" y="725" font-size="10.5" fill="#000" stroke="#000" stroke-width="0.05" textLength="54.5" lengthAdjust="spacingAndGlyphs" text-anchor="start" >21 Mar 12:00</text><text x="676" y="359" font-size="10.5" fill="#000" stroke="#000" stroke-width="0.05" textLength="37" lengthAdjust="spacingAndGlyphs" text-anchor="start" >0.003367</text><text x="676" y="447" font-size="10.5" fill="#000" stroke="#000" stroke-width="0.05" textLength="18" lengthAdjust="spacingAndGlyphs" text-anchor="start" >0.00</text><text x="676" y="532" font-size="10.5" fill="#000" stroke="#000" stroke-width="0.05" textLength="41" lengthAdjust="spacingAndGlyphs" text-anchor="start" >-0.003227</text><text x="676" y="548" font-size="10" fill="#000" stroke="#000" stroke-width="0.05" text-anchor="start" >100</text><text x="676" y="576" font-size="10" fill="#000" stroke="#000" stroke-width="0.05" text-anchor="start" >80</text><text x="676" y="681" font-size="10" fill="#000" stroke="#000" stroke-width="0.05" text-anchor="start" >20</text><text x="676" y="709" font-size="10" fill="#000" stroke="#000" stroke-width="0.05" text-anchor="start" >0</text></g></svg>
</body></html>
